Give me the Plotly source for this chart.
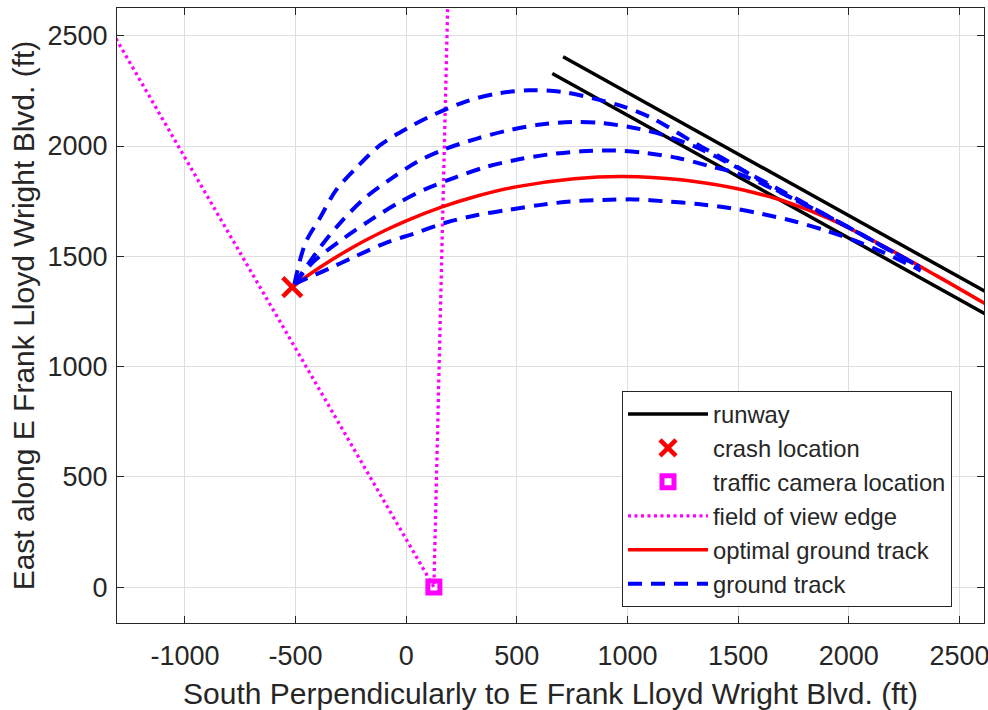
import plotly.graph_objects as go

# ---------------- data (feet) ----------------
runway_upper_x = [709, 2800]
runway_upper_y = [2405, 1238]
runway_lower_x = [660, 2800]
runway_lower_y = [2329, 1137]

crash_x = [-515]
crash_y = [1360]

camera_x = [125]
camera_y = [0]

fov_x = [-1400, 125, 189]
fov_y = [2640, 0, 2700]

optimal_x = [-515, -479, -396, -245, -94, 0, 162, 305, 502, 758, 985, 1242, 1469, 1605, 1700, 1909, 2150, 2400, 2700]
optimal_y = [1360, 1388, 1446, 1539, 1618, 1661, 1724, 1769, 1816, 1852, 1862, 1847, 1812, 1780, 1753, 1672, 1550, 1410, 1236]

track1_x = [-505, -456, -388, -317, -218, -118, 11, 124, 275, 411, 554, 706, 849, 978, 1114, 1310, 1446, 1642, 1750, 1950, 2150, 2320]
track1_y = [1375, 1559, 1677, 1800, 1909, 2004, 2084, 2142, 2204, 2238, 2253, 2245, 2215, 2180, 2125, 2010, 1936, 1818, 1760, 1658, 1547, 1452]

track2_x = [-505, -381, -290, -188, -71, 48, 169, 320, 456, 607, 751, 887, 1031, 1122, 1300, 1500, 1700, 1950, 2150, 2320]
track2_y = [1375, 1551, 1661, 1763, 1850, 1928, 1984, 2034, 2070, 2098, 2109, 2104, 2082, 2062, 2000, 1900, 1795, 1658, 1547, 1452]

track3_x = [-505, -420, -283, -162, -34, 90, 223, 363, 509, 645, 791, 940, 1076, 1227, 1363, 1499, 1700, 1950, 2150, 2320]
track3_y = [1375, 1475, 1581, 1664, 1743, 1806, 1858, 1906, 1940, 1962, 1976, 1980, 1969, 1946, 1911, 1875, 1785, 1658, 1547, 1452]

track4_x = [-505, -347, -233, -97, 38, 177, 321, 459, 600, 745, 891, 1029, 1174, 1318, 1469, 1605, 1756, 1892, 2031, 2164, 2292, 2325]
track4_y = [1375, 1445, 1498, 1559, 1604, 1652, 1687, 1710, 1732, 1749, 1755, 1758, 1749, 1737, 1718, 1693, 1658, 1618, 1570, 1514, 1452, 1435]

x_ticks = [-1000, -500, 0, 500, 1000, 1500, 2000, 2500]
x_tick_labels = ["-1000", "-500", "0", "500", "1000", "1500", "2000", "2500"]
y_ticks = [0, 500, 1000, 1500, 2000, 2500]
y_tick_labels = ["0", "500", "1000", "1500", "2000", "2500"]

x_range = [-1307, 2611]
y_range = [-163, 2626]

# ---------------- figure ----------------
FONT = "Liberation Sans, Arial, Helvetica, sans-serif"
TXT = "#262626"

fig = go.Figure()

fig.add_trace(go.Scatter(
    x=runway_upper_x + [None] + runway_lower_x,
    y=runway_upper_y + [None] + runway_lower_y,
    mode="lines", name="runway",
    line=dict(color="black", width=3.5),
    legendgroup="g1",
))
fig.add_trace(go.Scatter(
    x=crash_x, y=crash_y, mode="markers", name="crash location",
    marker=dict(symbol="x-thin", size=19, color="#ff0000",
                line=dict(color="#ff0000", width=4.5)),
    legendgroup="g2",
))
fig.add_trace(go.Scatter(
    x=camera_x, y=camera_y, mode="markers", name="traffic camera location",
    marker=dict(symbol="square-open", size=12, color="#ff00ff",
                line=dict(color="#ff00ff", width=5)),
    legendgroup="g3",
))
fig.add_trace(go.Scatter(
    x=fov_x, y=fov_y, mode="lines", name="field of view edge",
    line=dict(color="#ff00ff", width=3.3, dash="3px,3.5px"),
    legendgroup="g4",
))
fig.add_trace(go.Scatter(
    x=optimal_x, y=optimal_y, mode="lines", name="optimal ground track",
    line=dict(color="#ff0000", width=3.5, shape="spline", smoothing=1),
    legendgroup="g5",
))
for i, (tx, ty) in enumerate([(track1_x, track1_y), (track2_x, track2_y),
                              (track3_x, track3_y), (track4_x, track4_y)]):
    fig.add_trace(go.Scatter(
        x=tx, y=ty, mode="lines", name="ground track",
        line=dict(color="#0000ff", width=4, dash="14px,9px",
                  shape="spline", smoothing=0.9),
        legendgroup="g6", showlegend=(i == 0),
    ))

axis_common = dict(
    showgrid=True, gridcolor="#dedede", gridwidth=1,
    zeroline=False,
    showline=True, linecolor=TXT, linewidth=1.2, mirror="ticks",
    ticks="inside", ticklen=7, tickwidth=1.2, tickcolor=TXT,
    tickfont=dict(family=FONT, size=27, color=TXT),
    ticklabeloverflow="allow",
)

fig.update_xaxes(
    range=x_range, tickvals=x_ticks, ticktext=x_tick_labels,
    ticklabelstandoff=8,
    title=dict(text="South Perpendicularly to E Frank Lloyd Wright Blvd. (ft)",
               font=dict(family=FONT, size=30, color=TXT), standoff=19),
    automargin=False,
    **axis_common,
)
fig.update_yaxes(
    range=y_range, tickvals=y_ticks, ticktext=y_tick_labels,
    ticklabelstandoff=3,
    title=dict(text="East along E Frank Lloyd Wright Blvd. (ft)",
               font=dict(family=FONT, size=30, color=TXT), standoff=3),
    automargin=False,
    **axis_common,
)

# plot area spans page x 117..984, y 8..623 (body margin removed below)
fig.update_layout(
    width=988, height=710,
    margin=dict(l=117, r=4, t=8, b=87),
    paper_bgcolor="white", plot_bgcolor="white",
    showlegend=True,
    legend=dict(
        x=(622 - 117) / 867, y=(623 - 391) / 615,
        xanchor="left", yanchor="top",
        bgcolor="white", bordercolor=TXT, borderwidth=1,
        font=dict(family=FONT, size=23.8, color=TXT),
        traceorder="grouped", tracegroupgap=0,
        itemwidth=80,
    ),
)

fig.write_html(
    "out.html",
    config={"displayModeBar": False},
    post_script="document.body.style.margin='0';document.body.style.overflow='hidden';",
)
